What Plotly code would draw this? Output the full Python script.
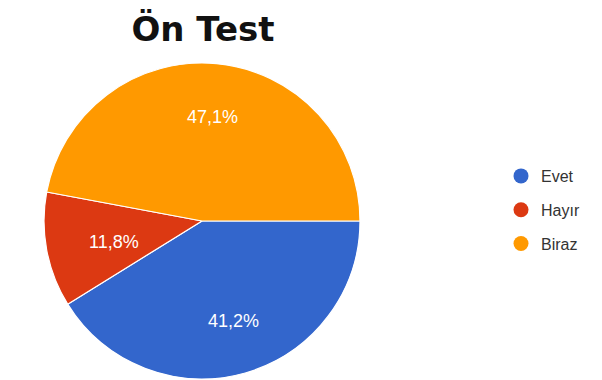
import numpy as np
import plotly.graph_objects as go

# Survey answers (counts) for the pre-test question
labels = ["Evet", "Hayır", "Biraz"]
counts = [7, 2, 8]
colors = ["#3366CC", "#DC3912", "#FF9900"]
title_text = "Ön Test"

W, H = 602, 380
cx, cy, R = 202, 221, 158          # pie centre / radius in pixels
label_r = 0.74                      # label distance as fraction of radius
start_deg = 90                      # first slice starts at 3 o'clock

fig = go.Figure()

fig.add_trace(go.Pie(
    labels=labels,
    values=counts,
    sort=False,
    direction="clockwise",
    rotation=start_deg,
    marker=dict(colors=colors, line=dict(color="white", width=1.2)),
    textinfo="none",
    showlegend=False,
    hoverinfo="label+percent",
    domain=dict(x=[(cx - R) / W, (cx + R) / W],
                y=[(H - cy - R) / H, (H - cy + R) / H]),
))

# Percentage labels placed at each slice's mid-angle
vals = np.array(counts, dtype=float)
frac = vals / vals.sum()
ends = np.cumsum(frac) * 360.0
mids = start_deg + ends - frac * 180.0
for f, m in zip(frac, mids):
    a = np.deg2rad(m)
    px = cx + label_r * R * np.sin(a)
    py = cy - label_r * R * np.cos(a)
    fig.add_annotation(
        x=px / W, y=1 - py / H, xref="paper", yref="paper",
        text=f"{f * 100:.1f}%".replace(".", ","),
        showarrow=False,
        font=dict(family="Liberation Sans, Arial, sans-serif", size=18, color="white"),
    )

# Legend entries with round swatches
for i, (lab, col) in enumerate(zip(labels, colors)):
    fig.add_trace(go.Scatter(
        x=[None], y=[None], mode="markers", name=lab,
        legendgroup=str(i),
        marker=dict(symbol="circle", size=15, color=col),
    ))

fig.update_layout(
    width=W, height=H,
    margin=dict(l=0, r=0, t=0, b=0),
    paper_bgcolor="white",
    plot_bgcolor="white",
    xaxis=dict(visible=False),
    yaxis=dict(visible=False),
    title=dict(
        text=f"<b>{title_text}</b>",
        x=203 / W, xanchor="center",
        y=1 - 29 / H, yanchor="middle", yref="container",
        font=dict(family="DejaVu Sans, sans-serif", size=34, color="#111111"),
    ),
    legend=dict(
        x=501 / W, xanchor="left",
        y=1 - 159 / H, yanchor="top",
        tracegroupgap=10,
        itemwidth=30,
        font=dict(family="Liberation Sans, Arial, sans-serif", size=16, color="#333333"),
        bgcolor="rgba(0,0,0,0)",
    ),
)

fig.write_html("out.html")
